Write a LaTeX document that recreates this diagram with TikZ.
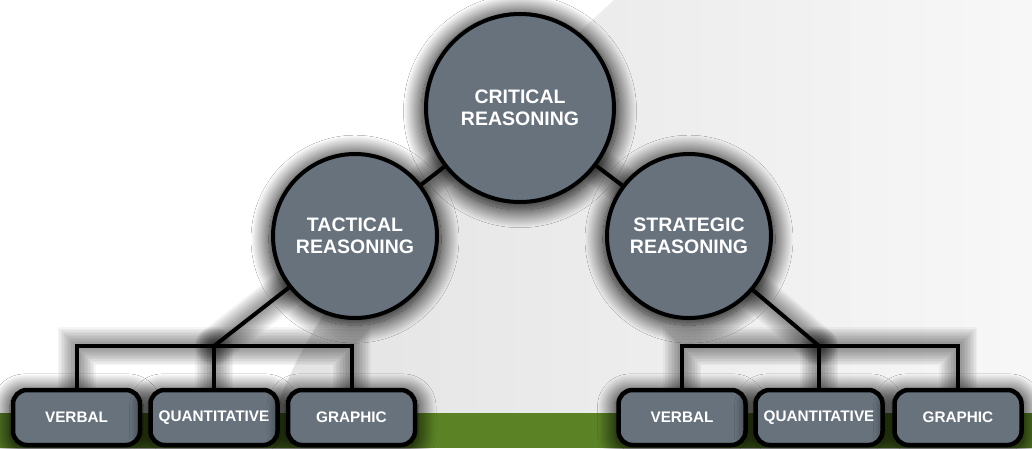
\documentclass[tikz,border=0pt]{standalone}
\usepackage{fontspec}
\setmainfont{Liberation Sans}
\usetikzlibrary{shadows.blur}
\pgfdeclarelayer{bg}
\pgfdeclarelayer{edges}
\pgfsetlayers{bg,edges,main}
\definecolor{slate}{RGB}{104,114,125}
\definecolor{grass}{RGB}{91,131,38}
\tikzset{
  glowshadow/.style={blur shadow={shadow xshift=0pt,shadow yshift=-3pt,shadow blur radius=17pt,shadow opacity=100,shadow scale=1.05,shadow blur steps=24}},
  bigcircle/.style={circle,draw=black,line width=4pt,fill=slate,text=white,inner sep=0pt,align=center,
    font=\fontsize{19.5}{21.5}\selectfont\bfseries,glowshadow},
  leafbox/.style={rectangle,rounded corners=14pt,draw=black,line width=4.5pt,fill=slate,text=white,
    minimum width=127pt,minimum height=55pt,inner sep=0pt,font=\fontsize{15.3}{18}\selectfont\bfseries,glowshadow},
  link/.style={draw=black,line width=4pt},
  glowline/.style={draw=black,line width=#1,opacity=0.04,line cap=round},
}
\begin{document}
\begin{tikzpicture}[x=1pt,y=-1pt]
\useasboundingbox (0,0) rectangle (1032,448);
% nodes
\node[bigcircle,minimum size=188pt] (crit) at (520,108) {CRITICAL\\REASONING};
\node[bigcircle,minimum size=164pt] (tact) at (355,236) {TACTICAL\\REASONING};
\node[bigcircle,minimum size=164pt] (strat) at (689,236) {STRATEGIC\\REASONING};
\node[leafbox] (v1) at (76.5,417.5) {VERBAL};
\node[leafbox] (q1) at (214,417.5) {QUANTITATIVE};
\node[leafbox] (g1) at (351.5,417.5) {GRAPHIC};
\node[leafbox] (v2) at (682,417.5) {VERBAL};
\node[leafbox] (q2) at (819,417.5) {QUANTITATIVE};
\node[leafbox] (g2) at (958,417.5) {GRAPHIC};
\coordinate (tj) at (214,346);
\coordinate (sj) at (819,346);
% background
\begin{pgfonlayer}{bg}
  \fill[white] (0,0) rectangle (1032,448);
  \shade[left color=black!11,right color=black!3]
    (613,0) .. controls (460,140) and (300,300) .. (270,430) -- (270,448) -- (1032,448) -- (1032,0) -- cycle;
  \draw[white,line width=1.5pt,opacity=0.8] (613,0) .. controls (460,140) and (300,300) .. (270,430);
  \fill[grass] (0,413) rectangle (1032,448);
\end{pgfonlayer}
% connectors
\begin{pgfonlayer}{edges}
  \foreach \w in {38pt,35pt,32pt,29pt,26pt,23pt,20pt,17pt,14pt,11pt,8pt}{
    \draw[glowline=\w] (crit) -- (tact);
    \draw[glowline=\w] (crit) -- (strat);
    \draw[glowline=\w] (tact) -- (tj);
    \draw[glowline=\w] (strat) -- (sj);
    \draw[glowline=\w] (v1.north) |- (tj) -| (g1.north);
    \draw[glowline=\w] (q1.north) -- (tj);
    \draw[glowline=\w] (v2.north) |- (sj) -| (g2.north);
    \draw[glowline=\w] (q2.north) -- (sj);
  }
  \draw[link] (crit) -- (tact);
  \draw[link] (crit) -- (strat);
  \draw[link] (tact) -- (tj);
  \draw[link] (strat) -- (sj);
  \draw[link] (v1.north) |- (tj) -| (g1.north);
  \draw[link] (q1.north) -- (tj);
  \draw[link] (v2.north) |- (sj) -| (g2.north);
  \draw[link] (q2.north) -- (sj);
\end{pgfonlayer}
\end{tikzpicture}
\end{document}
